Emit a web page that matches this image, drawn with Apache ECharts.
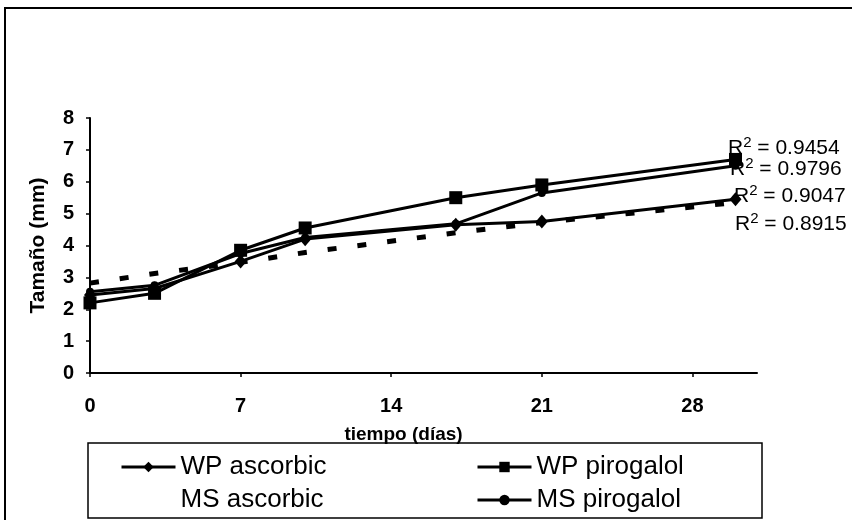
<!DOCTYPE html>
<html>
<head>
<meta charset="utf-8">
<script src="https://cdn.jsdelivr.net/npm/echarts@6/dist/echarts.min.js"></script>
<style>
  html, body { margin: 0; padding: 0; background: #fff; }
  #chart { width: 852px; height: 520px; }
</style>
</head>
<body>
<div id="chart"></div>
<script>
// days of measurement
const days = [0, 3, 7, 10, 17, 21, 30]
const xTicks = [0, 7, 14, 21, 28]

// tamaño (mm) per series
const wpAscorbic = [2.45, 2.65, 3.5, 4.2, 4.65, 4.75, 5.45]
const wpPirogalol = [2.2, 2.5, 3.85, 4.55, 5.5, 5.9, 6.7]
const msAscorbic = [2.82, 3.12, 3.47, 3.78, 4.4, 4.72, 5.35] // only its trend line is visible
const msPirogalol = [2.55, 2.75, 3.75, 4.25, 4.68, 5.65, 6.5]

const r2Values = ['0.9454', '0.9796', '0.9047', '0.8915']

const font = '"Liberation Sans", Arial, sans-serif'
const pair = arr => days.map((d, i) => [d, arr[i]])

const chart = echarts.init(document.getElementById('chart'))

function lineSeries(name, values, symbol, size) {
  return {
    name: name,
    type: 'line',
    data: pair(values),
    symbol: symbol,
    symbolSize: size,
    showAllSymbol: true,
    lineStyle: { color: '#000', width: 3 },
    itemStyle: { color: '#000' },
    emphasis: { disabled: true },
    animation: false
  }
}

// R² labels stacked at the right end
const r2Tops = [135, 156, 183, 211]
const r2Lefts = [728, 730, 734, 735]
const r2Graphics = r2Values.map((v, i) => ({
  type: 'text',
  left: r2Lefts[i],
  top: r2Tops[i],
  z: 10,
  style: {
    text: '{r|R}{s|2}{r| = ' + v + '}',
    rich: {
      r: { fontFamily: font, fontSize: 21, color: '#000', lineHeight: 24, verticalAlign: 'bottom' },
      s: { fontFamily: font, fontSize: 15, color: '#000', lineHeight: 24, verticalAlign: 'top' }
    }
  }
}))

const legendText = { fontFamily: font, fontSize: 26, lineHeight: 26, color: '#000' }

function legendColumn(left, items) {
  return {
    orient: 'vertical',
    left: left,
    top: 454,
    height: 70,
    padding: 0,
    itemWidth: 54,
    itemHeight: 13,
    itemGap: 7,
    selectedMode: false,
    lineStyle: { width: 3 },
    textStyle: legendText,
    data: items
  }
}

const option = {
  backgroundColor: '#fff',
  animation: false,
  grid: { left: 90, top: 118, right: 95, bottom: 147, containLabel: false },
  xAxis: {
    type: 'value',
    min: 0,
    max: 31,
    interval: 7,
    name: 'tiempo (días)',
    nameLocation: 'middle',
    nameGap: 52,
    nameTextStyle: { fontFamily: font, fontSize: 19, fontWeight: 'bold', color: '#000', padding: [0, 40, 0, 0] },
    axisLine: { lineStyle: { color: '#000', width: 2 } },
    axisTick: { show: true, length: 4, inside: false, lineStyle: { color: '#000', width: 1.5 }, customValues: xTicks },
    axisLabel: { fontFamily: font, fontSize: 20, fontWeight: 'bold', color: '#000', margin: 23, customValues: xTicks },
    splitLine: { show: false }
  },
  yAxis: {
    type: 'value',
    min: 0,
    max: 8,
    interval: 1,
    name: 'Tamaño (mm)',
    nameLocation: 'middle',
    nameGap: 41,
    nameTextStyle: { fontFamily: font, fontSize: 21, fontWeight: 'bold', color: '#000' },
    axisLine: { show: true, lineStyle: { color: '#000', width: 2 } },
    axisTick: { show: true, length: 4, lineStyle: { color: '#000', width: 1.5 } },
    axisLabel: { fontFamily: font, fontSize: 20, fontWeight: 'bold', color: '#000', margin: 16 },
    splitLine: { show: false }
  },
  legend: [
    legendColumn(120, [
      { name: 'WP ascorbic' },
      { name: 'MS ascorbic', icon: 'rect', itemStyle: { opacity: 0 } }
    ]),
    legendColumn(476, [{ name: 'WP pirogalol' }, { name: 'MS pirogalol' }])
  ],
  graphic: [
    // outer chart border (top and left edges visible)
    {
      type: 'rect',
      shape: { x: 5, y: 8, width: 900, height: 600 },
      style: { fill: 'none', stroke: '#000', lineWidth: 2 },
      silent: true
    },
    // legend frame
    {
      type: 'rect',
      shape: { x: 88, y: 443, width: 674, height: 75 },
      style: { fill: 'none', stroke: '#000', lineWidth: 1.5 },
      silent: true
    }
  ].concat(r2Graphics),
  series: [
    lineSeries('WP ascorbic', wpAscorbic, 'diamond', [12, 14]),
    lineSeries('WP pirogalol', wpPirogalol, 'rect', 13),
    {
      name: 'MS ascorbic',
      type: 'line',
      data: pair(msAscorbic),
      symbol: 'none',
      lineStyle: { color: '#000', width: 5, type: [9, 21] },
      itemStyle: { color: '#000' },
      emphasis: { disabled: true },
      animation: false
    },
    lineSeries('MS pirogalol', msPirogalol, 'circle', 8)
  ]
}

chart.setOption(option)
</script>
</body>
</html>
